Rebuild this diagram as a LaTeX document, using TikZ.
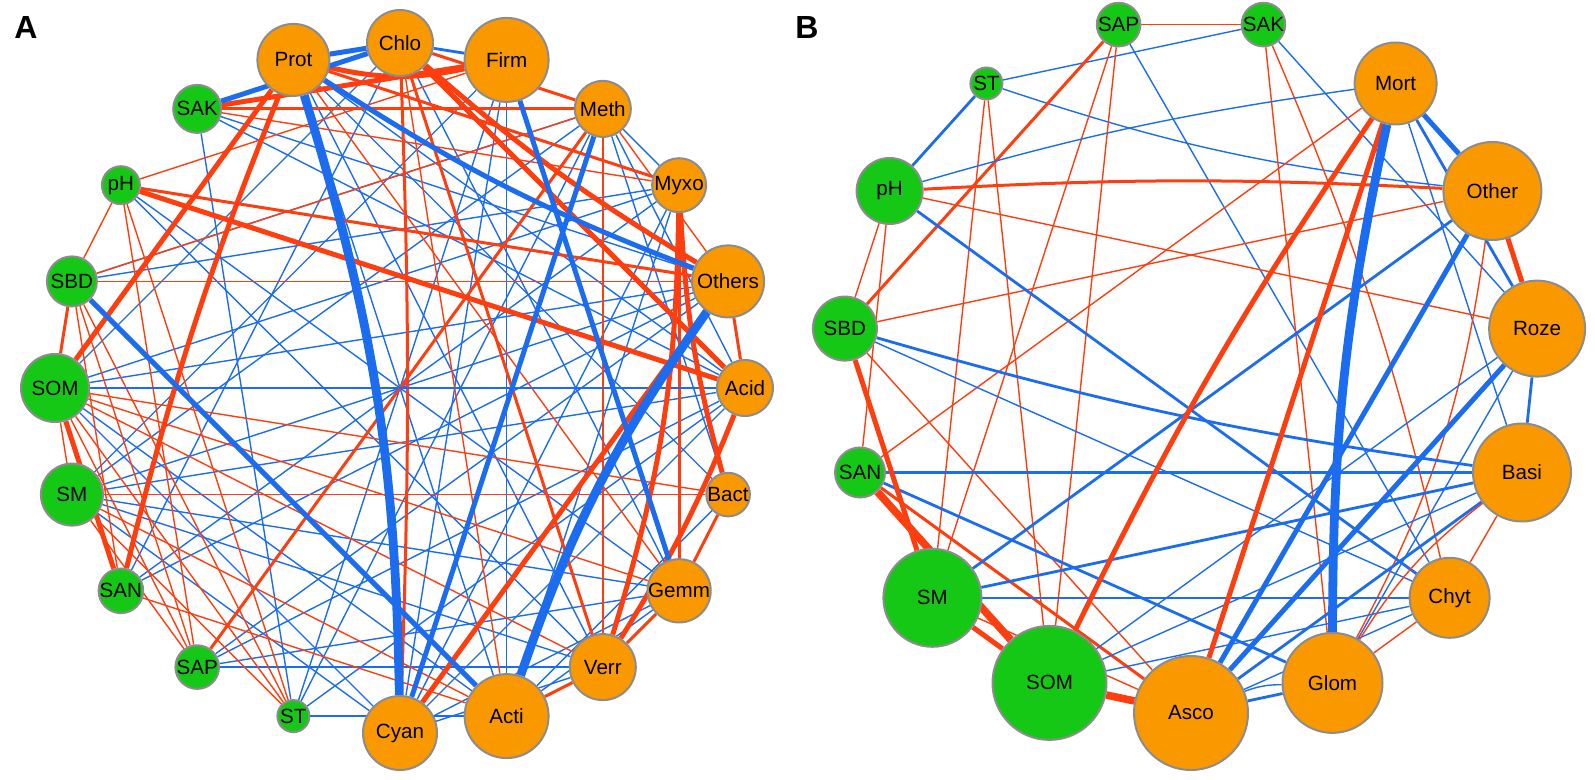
\documentclass[tikz,border=0pt]{standalone}
\usepackage{fontspec}
\setmainfont{Liberation Sans}
\definecolor{ered}{RGB}{255,62,16}
\definecolor{eblue}{RGB}{28,108,240}
\definecolor{norange}{RGB}{250,152,0}
\definecolor{ngreen}{RGB}{22,200,22}
\definecolor{nborder}{RGB}{140,140,140}
\pgfdeclarelayer{edges}
\pgfsetlayers{edges,main}
\begin{document}
\begin{tikzpicture}[x=0.5pt,y=-0.5pt,
  nd/.style={circle,draw=nborder,line width=1pt,inner sep=0pt,minimum size=#1,font=\fontsize{10.3}{12}\selectfont},
  gn/.style={nd=#1,fill=ngreen},
  on/.style={nd=#1,fill=norange},
  r1/.style={draw=ered,line width=0.7pt},
  r2/.style={draw=ered,line width=1.5pt},
  r3/.style={draw=ered,line width=2.5pt},
  r4/.style={draw=ered,line width=3.8pt},
  b1/.style={draw=eblue,line width=0.7pt},
  b2/.style={draw=eblue,line width=1.4pt},
  b3/.style={draw=eblue,line width=2.5pt},
  b4/.style={draw=eblue,line width=4.4pt},
  plabel/.style={font=\bfseries\fontsize{16}{18}\selectfont}]
\useasboundingbox (0,0) rectangle (1595,780);
\node[plabel] (labA) at (26,27) {A};
\node[plabel] (labB) at (807,27) {B};
% ---------- Panel A nodes
\node[on=33pt] (A-Chlo) at (400,43) {Chlo};
\node[on=42pt] (A-Firm) at (506.6,59.9) {Firm};
\node[on=28pt] (A-Meth) at (602.8,108.9) {Meth};
\node[on=27pt] (A-Myxo) at (679.1,185.2) {Myxo};
\node[on=36pt] (A-Others) at (728.1,281.4) {Others};
\node[on=28pt] (A-Acid) at (745,388) {Acid};
\node[on=18pt] (A-Bact) at (728.1,494.6) {Bact};
\node[on=27pt] (A-Gemm) at (679.1,590.8) {Gemm};
\node[on=33pt] (A-Verr) at (602.8,667.1) {Verr};
\node[on=42pt] (A-Acti) at (506.6,716.1) {Acti};
\node[on=37pt] (A-Cyan) at (400,733) {Cyan};
\node[gn=16pt] (A-ST) at (293.4,716.1) {ST};
\node[gn=20pt] (A-SAP) at (197.2,667.1) {SAP};
\node[gn=19pt] (A-SAN) at (120.9,590.8) {SAN};
\node[gn=31pt] (A-SM) at (71.9,494.6) {SM};
\node[gn=34pt] (A-SOM) at (55,388) {SOM};
\node[gn=25pt] (A-SBD) at (71.9,281.4) {SBD};
\node[gn=19pt] (A-pH) at (120.9,185.2) {pH};
\node[gn=24pt] (A-SAK) at (197.2,108.9) {SAK};
\node[on=36pt] (A-Prot) at (293.4,59.9) {Prot};
% ---------- Panel B nodes
\node[gn=17pt] (B-SAP) at (1118.6,24.6) {SAP};
\node[gn=17pt] (B-SAK) at (1263.4,24.6) {SAK};
\node[on=41pt] (B-Mort) at (1395.6,83.5) {Mort};
\node[on=49pt] (B-Other) at (1492.4,191) {Other};
\node[on=48pt] (B-Roze) at (1537.1,328.6) {Roze};
\node[on=49pt] (B-Basi) at (1522,472.5) {Basi};
\node[on=40pt] (B-Chyt) at (1449.6,597.8) {Chyt};
\node[on=50pt] (B-Glom) at (1332.5,682.9) {Glom};
\node[on=57pt] (B-Asco) at (1191,713) {Asco};
\node[gn=57pt] (B-SOM) at (1049.5,682.9) {SOM};
\node[gn=49pt] (B-SM) at (932.4,597.8) {SM};
\node[gn=25pt] (B-SAN) at (860,472.5) {SAN};
\node[gn=32pt] (B-SBD) at (844.9,328.6) {SBD};
\node[gn=33pt] (B-pH) at (889.6,191) {pH};
\node[gn=16pt] (B-ST) at (986.4,83.5) {ST};
\begin{pgfonlayer}{edges}
% ---------- Panel A edges: thin blue
\draw[b1] (A-SAK) -- (A-ST);
\draw[b1] (A-SAK) -- (A-Others);
\draw[b1] (A-SAK) -- (A-Acid);
\draw[b1] (A-pH) -- (A-Gemm);
\draw[b1] (A-pH) -- (A-Verr);
\draw[b1] (A-SBD) -- (A-Myxo);
\draw[b1] (A-SOM) -- (A-Others);
\draw[b1] (A-SOM) -- (A-Myxo);
\draw[b1] (A-SOM) -- (A-Cyan);
\draw[b1] (A-SOM) -- (A-Acti);
\draw[b1] (A-SM) -- (A-Others);
\draw[b1] (A-SM) -- (A-Acid);
\draw[b1] (A-SM) -- (A-Gemm);
\draw[b1] (A-SM) -- (A-Verr);
\draw[b1] (A-SM) -- (A-Cyan);
\draw[b1] (A-SM) -- (A-Firm);
\draw[b1] (A-SAN) -- (A-Others);
\draw[b1] (A-SAN) -- (A-Myxo);
\draw[b1] (A-SAP) -- (A-Verr);
\draw[b1] (A-SAP) -- (A-Gemm);
\draw[b1] (A-SAP) -- (A-Acid);
\draw[b1] (A-ST) -- (A-Meth);
\draw[b1] (A-ST) -- (A-Acti);
\draw[b1] (A-ST) -- (A-Firm);
\draw[b1] (A-Prot) -- (A-Acti);
\draw[b1] (A-Prot) -- (A-Verr);
\draw[b1] (A-Prot) -- (A-Acid);
\draw[b1] (A-Prot) -- (A-Bact);
\draw[b1] (A-Chlo) -- (A-Gemm);
\draw[b1] (A-Chlo) -- (A-SOM);
\draw[b1] (A-Chlo) -- (A-SAN);
\draw[b1] (A-Firm) -- (A-Cyan);
\draw[b1] (A-Firm) -- (A-Acti);
\draw[b1] (A-Meth) -- (A-Myxo);
\draw[b1] (A-Meth) -- (A-Acid);
\draw[b1] (A-Meth) -- (A-SBD);
\draw[b1] (A-Meth) -- (A-SM);
\draw[b1] (A-Myxo) -- (A-Acti);
\draw[b1] (A-Myxo) -- (A-Cyan);
\draw[b1] (A-Acid) -- (A-Cyan);
\draw[b1] (A-Gemm) -- (A-Cyan);
\draw[b1] (A-Gemm) -- (A-Acti);
\draw[b1] (A-Verr) -- (A-Cyan);
\draw[b1] (A-Bact) -- (A-Acti);
\draw[b1] (A-Bact) -- (A-Meth);
\draw[b1] (A-Others) -- (A-SAP);
\draw[b1] (A-Acid) -- (A-ST);
% ---------- Panel A edges: thin red
\draw[r1] (A-SAK) -- (A-Myxo);
\draw[r1] (A-pH) -- (A-SBD);
\draw[r1] (A-pH) -- (A-SAP);
\draw[r1] (A-pH) -- (A-Firm);
\draw[r1] (A-SBD) -- (A-Others);
\draw[r1] (A-SBD) -- (A-SAN);
\draw[r1] (A-SBD) -- (A-Meth);
\draw[r1] (A-ST) -- (A-SOM);
\draw[r1] (A-ST) -- (A-SM);
\draw[r1] (A-ST) -- (A-SBD);
\draw[r1] (A-ST) -- (A-pH);
\draw[r1] (A-SAP) -- (A-SOM);
\draw[r1] (A-SAP) -- (A-SBD);
\draw[r1] (A-SAP) -- (A-SM);
\draw[r1] (A-SAN) -- (A-Acti);
\draw[r1] (A-SOM) -- (A-Gemm);
\draw[r1] (A-SOM) -- (A-Bact);
\draw[r1] (A-SM) -- (A-Bact);
\draw[r1] (A-Verr) -- (A-SOM);
\draw[r1] (A-Meth) -- (A-Verr);
\draw[r1] (A-Meth) -- (A-Others);
\draw[r1] (A-Acti) -- (A-SM);
\draw[r1] (A-Prot) -- (A-Gemm);
\draw[r1] (A-Chlo) -- (A-Acti);
\draw[r1] (A-SOM) -- (A-SM);
% ---------- Panel A edges: medium and thick
\draw[r2] (A-Myxo) -- (A-Gemm);
\draw[r2] (A-Bact) -- (A-Gemm);
\draw[r2] (A-Verr) -- (A-Gemm);
\draw[r2] (A-Acti) -- (A-Verr);
\draw[r2] (A-Others) -- (A-Acid);
\draw[r2] (A-pH) -- (A-Others);
\draw[r2] (A-Chlo) to[bend left=2] (A-Cyan);
\draw[r2] (A-Chlo) -- (A-Verr);
\draw[r2] (A-Prot) -- (A-Myxo);
\draw[r2] (A-Chlo) -- (A-Meth);
\draw[r2] (A-SAP) -- (A-Meth);
\draw[r2] (A-SAK) -- (A-Meth);
\draw[r2] (A-SBD) -- (A-SOM);
\draw[b2] (A-Chlo) -- (A-Firm);
\draw[b2] (A-SOM) -- (A-Acid);
\draw[r3] (A-Prot) to[bend right=12] (A-Firm);
\draw[r3] (A-SAK) -- (A-Firm);
\draw[r3] (A-Chlo) to[bend right=5] (A-Others);
\draw[r3] (A-Chlo) -- (A-Acid);
\draw[r3] (A-pH) -- (A-Acid);
\draw[r3] (A-SOM) -- (A-Prot);
\draw[r3] (A-SAN) to[bend left=4] (A-Prot);
\draw[r3] (A-SOM) -- (A-SAN);
\draw[r3] (A-Others) -- (A-Cyan);
\draw[r3] (A-Myxo) to[bend left=8] (A-Verr);
\draw[r3] (A-Acid) to[bend left=5] (A-Verr);
\draw[r3] (A-Myxo) to[bend right=6] (A-Bact);
\draw[b3] (A-Prot) to[bend right=6] (A-Others);
\draw[b3] (A-Prot) -- (A-Chlo);
\draw[b3] (A-SAK) -- (A-Chlo);
\draw[b3] (A-SBD) -- (A-Acti);
\draw[b3] (A-Firm) -- (A-Gemm);
\draw[b3] (A-Meth) -- (A-Cyan);
\draw[b4] (A-Prot) to[bend left=8] (A-Cyan);
\draw[b4] (A-Others) to[bend right=8] (A-Acti);
% ---------- Panel B edges
\draw[r1] (B-SAP) -- (B-SAK);
\draw[b1] (B-ST) -- (B-SAK);
\draw[b2] (B-ST) -- (B-pH);
\draw[b1] (B-ST) to[bend right=6] (B-Other);
\draw[r1] (B-ST) -- (B-SM);
\draw[r1] (B-ST) -- (B-SOM);
\draw[r2] (B-SAP) -- (B-SBD);
\draw[r1] (B-SAP) -- (B-SM);
\draw[r1] (B-SAP) -- (B-SOM);
\draw[b1] (B-SAP) -- (B-Chyt);
\draw[r1] (B-SAK) -- (B-Glom);
\draw[r1] (B-SAK) to[bend left=5] (B-Chyt);
\draw[b1] (B-SAK) -- (B-Roze);
\draw[b1] (B-Mort) -- (B-Basi);
\draw[b1] (B-Mort) to[bend right=4] (B-pH);
\draw[r2] (B-pH) to[bend left=3] (B-Other);
\draw[r1] (B-Other) to[bend left=10] (B-Glom);
\draw[r1] (B-SBD) -- (B-Other);
\draw[r1] (B-pH) -- (B-Roze);
\draw[r1] (B-SAN) -- (B-Mort);
\draw[r1] (B-SBD) -- (B-Asco);
\draw[r1] (B-pH) -- (B-SBD);
\draw[r1] (B-pH) -- (B-SAN);
\draw[b2] (B-pH) -- (B-Chyt);
\draw[b2] (B-SBD) to[bend right=4] (B-Basi);
\draw[b1] (B-SBD) -- (B-Chyt);
\draw[b2] (B-SAN) -- (B-Basi);
\draw[b2] (B-SAN) -- (B-Glom);
\draw[r2] (B-SAN) -- (B-Asco);
\draw[r1] (B-SM) -- (B-Asco);
\draw[b2] (B-SM) -- (B-Other);
\draw[b2] (B-SM) -- (B-Basi);
\draw[b1] (B-SM) -- (B-Chyt);
\draw[b1] (B-SOM) -- (B-Asco);
\draw[b1] (B-SOM) -- (B-Roze);
\draw[b1] (B-SOM) -- (B-Basi);
\draw[b1] (B-SOM) -- (B-Chyt);
\draw[b2] (B-Asco) -- (B-Glom);
\draw[b1] (B-Asco) to[bend left=10] (B-Glom);
\draw[b1] (B-Asco) -- (B-Chyt);
\draw[b2] (B-Asco) -- (B-Basi);
\draw[r1] (B-Glom) -- (B-Chyt);
\draw[r1] (B-Glom) to[bend left=10] (B-Basi);
\draw[r1] (B-Chyt) -- (B-Basi);
\draw[b2] (B-Roze) -- (B-Basi);
\draw[b1] (B-Glom) -- (B-Roze);
\draw[b2] (B-Mort) -- (B-Roze);
\draw[b3] (B-Mort) -- (B-Other);
\draw[r3] (B-Other) -- (B-Roze);
\draw[b3] (B-Other) -- (B-Asco);
\draw[b3] (B-Roze) -- (B-Asco);
\draw[r3] (B-SBD) -- (B-SM);
\draw[r3] (B-SM) -- (B-SOM);
\draw[r4] (B-SAN) -- (B-SOM);
\draw[r4] (B-SOM) -- (B-Asco);
\draw[r3] (B-Mort) to[bend right=4] (B-SOM);
\draw[r3] (B-Mort) -- (B-Asco);
\draw[b4] (B-Mort) to[bend right=6] (B-Glom);
\end{pgfonlayer}
\end{tikzpicture}
\end{document}
